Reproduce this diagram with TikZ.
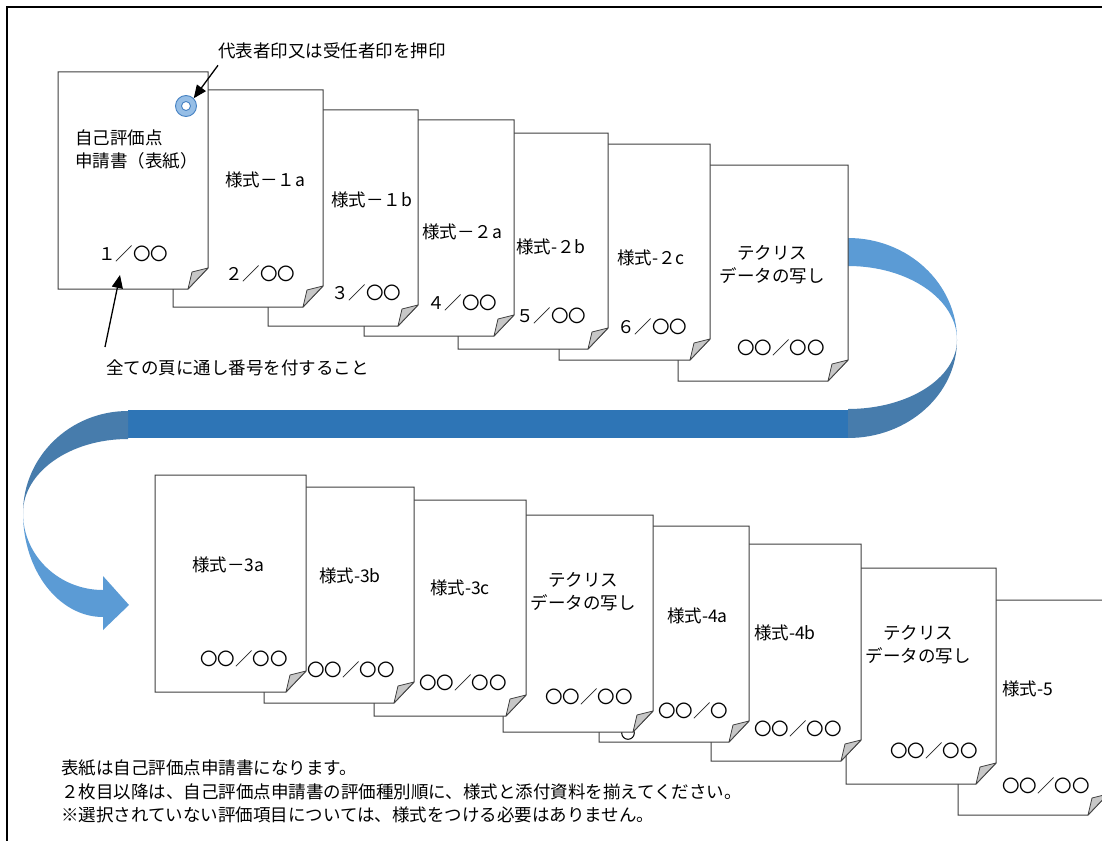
\documentclass[tikz,border=0pt]{standalone}
\usepackage{fontspec}
\setmainfont{Noto Sans CJK JP}
\usetikzlibrary{positioning,arrows.meta}
\definecolor{barblue}{RGB}{46,117,182}
\definecolor{lightblue}{RGB}{91,155,213}
\definecolor{darkblue}{RGB}{71,124,172}
\definecolor{sealfill}{RGB}{150,190,230}
\definecolor{sealline}{RGB}{70,130,195}
\tikzset{sheet/.style={draw=black!75,fill=white,line width=1pt},
         fold/.style={draw=black!75,fill=black!22,line width=0.8pt,line join=round},
         txt/.style={inner sep=0pt,anchor=west,font=\fontsize{17.5}{23}\selectfont},
         note/.style={inner sep=0pt,anchor=west,font=\fontsize{17.5}{23.5}\selectfont},
         seal/.style={circle,inner sep=0pt,minimum size=21pt,draw=sealline,line width=0.9pt,
                      fill=sealfill}
}
\tikzstyle{arrow} = [line width=1.3pt,-{Triangle[length=13pt,width=11pt]}]
% one sheet: left, top, right, bottom
\newcommand{\sheet}[4]{%
  \draw[sheet] (#1,#2) -- (#3,#2) -- (#3,#4-21) -- (#3-20,#4) -- (#1,#4) -- cycle;
  \draw[fold] (#3,#4-21) -- (#3-16,#4-17) -- (#3-20,#4) -- cycle;
}
\begin{document}
\begin{tikzpicture}[x=1pt,y=-1pt]
\useasboundingbox (0,0) rectangle (1102,840);
\fill[white] (0,0) rectangle (1102,840);
\draw[line width=1.5pt] (7,850) -- (7,7) -- (1110,7);

% ribbon
\fill[barblue] (128,410) rectangle (848,438);
\fill[lightblue] (848,238) arc[start angle=90,end angle=0,x radius=109pt,y radius=102pt]
  arc[start angle=0,end angle=90,x radius=109pt,y radius=74pt] -- cycle;
\fill[darkblue] (957,340) arc[start angle=0,end angle=-90,x radius=109pt,y radius=98pt]
  -- (848,409) arc[start angle=-90,end angle=0,x radius=109pt,y radius=69pt] -- cycle;
\fill[darkblue] (128,411) arc[start angle=90,end angle=180,x radius=105pt,y radius=102pt]
  arc[start angle=180,end angle=90,x radius=105pt,y radius=74pt] -- cycle;
\fill[lightblue] (23,513) arc[start angle=180,end angle=270,x radius=80pt,y radius=104pt]
  -- (103,630) -- (129,605) -- (103,576) -- (103,590)
  arc[start angle=270,end angle=180,x radius=80pt,y radius=77pt] -- cycle;

% first row
\sheet{678}{165}{848}{381}
\node[txt,anchor=center,align=center] (tec1) at (772,265) {テクリス\\データの写し};
\node[txt] (num7) at (737,348) {〇〇／〇〇};
\sheet{559}{144}{710}{360}
\node[txt] (form2c) at (617,258) {様式-２c};
\node[txt] (num6) at (617,327) {６／〇〇};
\sheet{458}{133}{608}{349}
\node[txt] (form2b) at (516,247) {様式-２b};
\node[txt] (num5) at (516,316) {５／〇〇};
\sheet{364}{120}{514}{336}
\node[txt] (form2a) at (422,232) {様式－２a};
\node[txt] (num4) at (427,303) {４／〇〇};
\sheet{268}{110}{418}{326}
\node[txt] (form1b) at (331,200) {様式－１b};
\node[txt] (num3) at (331,293) {３／〇〇};
\sheet{173}{90}{323}{307}
\node[txt] (form1a) at (225,180) {様式－１a};
\node[txt] (num2) at (225,274) {２／〇〇};
\sheet{58}{72}{208}{289}
\node[txt,align=left] (cover) at (75,150) {自己評価点\\申請書（表紙）};
\node[txt] (num1) at (98,254) {１／〇〇};
\node[seal] (stamp) at (186,106) {};
\filldraw[fill=white,draw=sealline,line width=0.9pt] (stamp.center) circle[radius=4.5pt];

% second row
\sheet{958}{600}{1108}{815}
\node[txt] (form5) at (1002,689) {様式-5};
\node[txt] (num15) at (1002,786) {〇〇／〇〇};
\sheet{846}{568}{996}{784}
\node[txt,anchor=center,align=center] (tec3) at (918,645) {テクリス\\データの写し};
\node[txt] (num14) at (890,751) {〇〇／〇〇};
\sheet{711}{544}{861}{761}
\node[txt] (form4b) at (754,633) {様式-4b};
\node[txt] (num13) at (754,729) {〇〇／〇〇};
\sheet{599}{526}{749}{742}
\node[txt] (form4a) at (667,616) {様式-4a};
\node[txt] (num12) at (658,711) {〇〇／〇};
\draw[line width=1pt] (628,733) circle[radius=6.3pt];
\sheet{503}{515}{653}{732}
\node[txt,anchor=center,align=center] (tec2) at (583,592) {テクリス\\データの写し};
\node[txt] (num11) at (545,697) {〇〇／〇〇};
\sheet{374}{500}{526}{716}
\node[txt] (form3c) at (430,588) {様式-3c};
\node[txt] (num10) at (419,683) {〇〇／〇〇};
\sheet{264}{487}{414}{703}
\node[txt] (form3b) at (319,576) {様式-3b};
\node[txt] (num9) at (307,670) {〇〇／〇〇};
\sheet{155}{475}{306}{692}
\node[txt] (form3a) at (192,565) {様式－3a};
\node[txt] (num8) at (200,659) {〇〇／〇〇};

% labels
\node[note] (seallabel) at (218,51) {代表者印又は受任者印を押印};
\node[note] (numlabel) at (106,368) {全ての頁に通し番号を付すること};
\coordinate (numtail) at (105,347);
\coordinate (numtip) at (120,275);
\draw[arrow] ([yshift=-6pt]seallabel.south west) -- (stamp.north east);
\draw[arrow] (numtail) -- (numtip);

\node[note,align=left] (notes) at (61,791.5) {表紙は自己評価点申請書になります。\\
２枚目以降は、自己評価点申請書の評価種別順に、様式と添付資料を揃えてください。\\
※選択されていない評価項目については、様式をつける必要はありません。};

\end{tikzpicture}
\end{document}
